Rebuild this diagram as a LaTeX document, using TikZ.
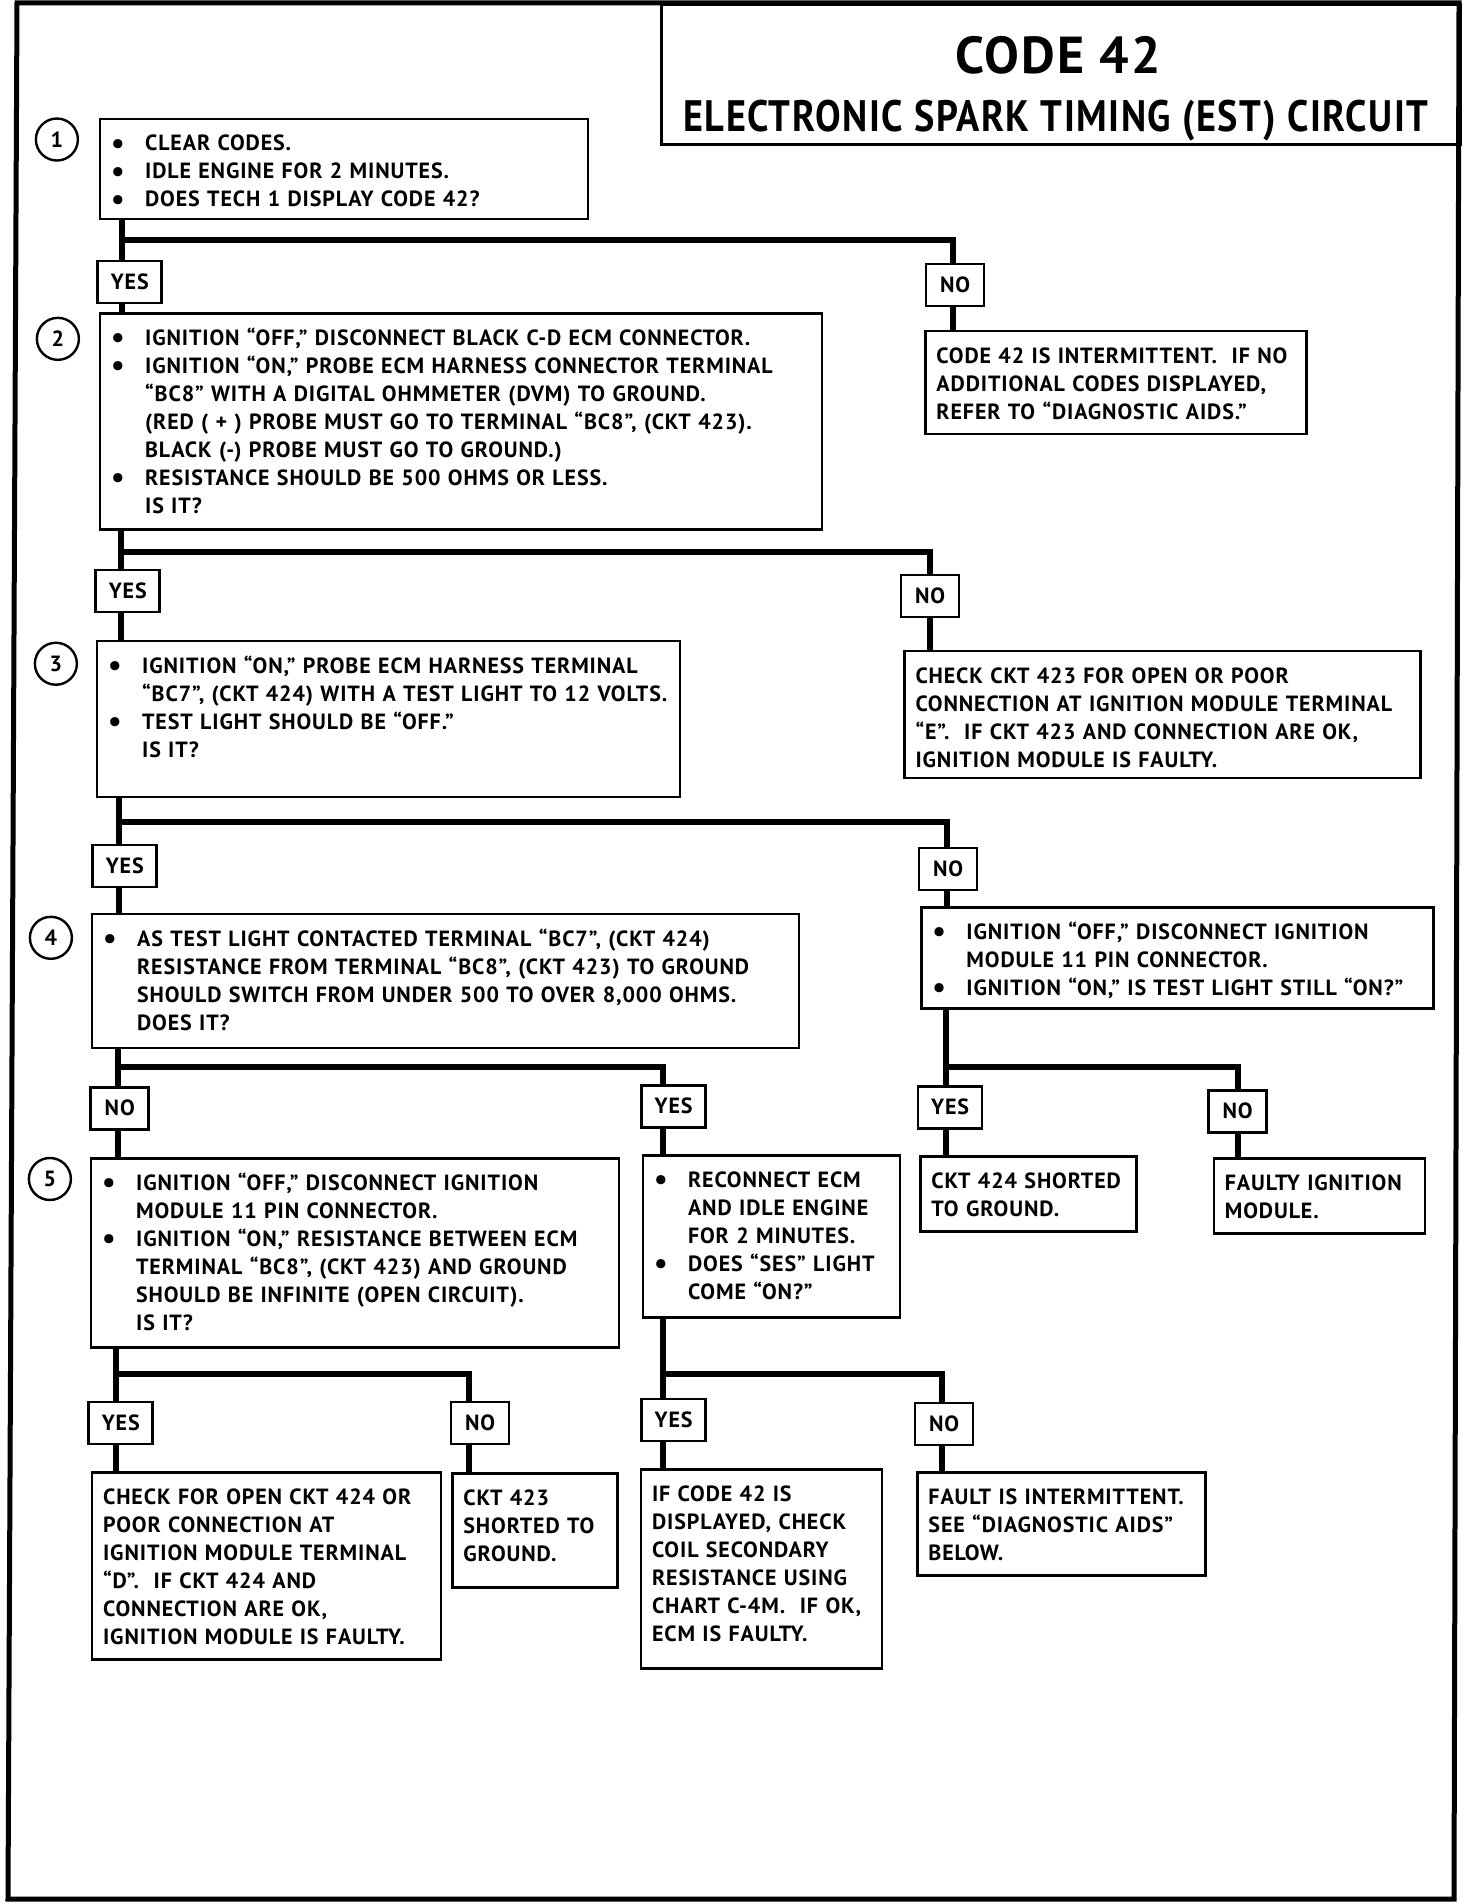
\documentclass[tikz,border=0pt]{standalone}
\usepackage{fontspec}
\setmainfont{PT Sans}[LetterSpace=4]
\usepackage{graphicx}
\usetikzlibrary{positioning}

\newcommand{\bodyfont}{\fontsize{11}{14}\selectfont\bfseries}
\newcommand{\bul}{\makebox[17pt][l]{\raisebox{-1.2pt}{\fontsize{15}{14}\selectfont\textbullet}}}
\newcommand{\ind}{\hspace*{17pt}}

\begin{document}
\begin{tikzpicture}[x=0.5pt,y=-0.5pt]

\tikzset{stepbox/.style={draw, line width=1.3pt, anchor=north west, inner xsep=5.5pt, inner ysep=0pt, align=left, text height=16pt, font=\bodyfont},
  ansbox/.style={draw, line width=1.3pt, inner sep=0pt, minimum height=21pt, font=\bodyfont},
  yesbox/.style={ansbox, minimum width=32pt},
  nobox/.style={ansbox, minimum width=29pt},
  stepnum/.style={circle, draw, line width=1.2pt, minimum size=21pt, inner sep=0pt, font=\bodyfont},
  conn/.style={line width=3pt}}

\useasboundingbox (0,0) rectangle (1472,1904);
\draw[line width=2.5pt] (17,3) -- (1459,3) -- (1454,1899) -- (8,1899) -- cycle;

\node[draw, line width=1.6pt, anchor=north west, minimum width=399.5pt, minimum height=70pt, inner sep=0pt] (title) at (660,3) {};
\node[font=\fontsize{26}{26}\selectfont\bfseries] (t1) at (1058,55) {CODE 42};
\node[font=\fontsize{22}{22}\selectfont\bfseries] (t2) at (1056,121) {\scalebox{0.87}[1]{ELECTRONIC SPARK TIMING (EST) CIRCUIT}};

\begin{scope}[xscale=0.998, yscale=0.9966]
\node[stepnum] (c1) at (57,140) {1};
\node[stepnum] (c2) at (58,340) {2};
\node[stepnum] (c3) at (56,666) {3};
\node[stepnum] (c4) at (51,941) {4};
\node[stepnum] (c5) at (50,1183) {5};

\node[stepbox, text width=233pt, text depth=34pt] (b1) at (99,118)
  {\bul CLEAR CODES.\\ \bul IDLE ENGINE FOR 2 MINUTES.\\ \bul DOES TECH 1 DISPLAY CODE 42?};
\node[stepbox, text width=350pt, text depth=92pt] (b2) at (99,313)
  {\bul IGNITION “OFF,” DISCONNECT BLACK C-D ECM CONNECTOR.\\
   \bul IGNITION “ON,” PROBE ECM HARNESS CONNECTOR TERMINAL\\
   \ind “BC8” WITH A DIGITAL OHMMETER (DVM) TO GROUND.\\
   \ind (RED ( + ) PROBE MUST GO TO TERMINAL “BC8”, (CKT 423).\\
   \ind BLACK (-) PROBE MUST GO TO GROUND.)\\
   \bul RESISTANCE SHOULD BE 500 OHMS OR LESS.\\
   \ind IS IT?};
\node[stepbox, text width=280.5pt, text depth=62pt] (b3) at (96,642)
  {\bul IGNITION “ON,” PROBE ECM HARNESS TERMINAL\\
   \ind “BC7”, (CKT 424) WITH A TEST LIGHT TO 12 VOLTS.\\
   \bul TEST LIGHT SHOULD BE “OFF.”\\
   \ind IS IT?};
\node[stepbox, text width=342.5pt, text depth=51pt] (b4) at (91,916)
  {\bul AS TEST LIGHT CONTACTED TERMINAL “BC7”, (CKT 424)\\
   \ind RESISTANCE FROM TERMINAL “BC8”, (CKT 423) TO GROUND\\
   \ind SHOULD SWITCH FROM UNDER 500 TO OVER 8,000 OHMS.\\
   \ind DOES IT?};
\node[stepbox, text width=253pt, text depth=78.5pt] (b5) at (90,1161)
  {\bul IGNITION “OFF,” DISCONNECT IGNITION\\
   \ind MODULE 11 PIN CONNECTOR.\\
   \bul IGNITION “ON,” RESISTANCE BETWEEN ECM\\
   \ind TERMINAL “BC8”, (CKT 423) AND GROUND\\
   \ind SHOULD BE INFINITE (OPEN CIRCUIT).\\
   \ind IS IT?};

\node[stepbox, text width=179.5pt, text depth=35.5pt] (n1) at (926,331)
  {CODE 42 IS INTERMITTENT.\ \ IF NO\\ ADDITIONAL CODES DISPLAYED,\\ REFER TO “DIAGNOSTIC AIDS.”};
\node[stepbox, text width=247pt, text depth=47.5pt] (n2) at (905,652)
  {CHECK CKT 423 FOR OPEN OR POOR\\ CONNECTION AT IGNITION MODULE TERMINAL\\
   “E”.\ \ IF CKT 423 AND CONNECTION ARE OK,\\ IGNITION MODULE IS FAULTY.};
\node[stepbox, text width=245pt, text depth=34.5pt] (n3) at (922,909)
  {\bul IGNITION “OFF,” DISCONNECT IGNITION\\
   \ind MODULE 11 PIN CONNECTOR.\\
   \bul IGNITION “ON,” IS TEST LIGHT STILL “ON?”};
\node[stepbox, text width=117.5pt, text depth=65pt] (r4) at (643,1158)
  {\bul RECONNECT ECM\\ \ind AND IDLE ENGINE\\ \ind FOR 2 MINUTES.\\ \bul DOES “SES” LIGHT\\ \ind COME “ON?”};
\node[stepbox, text width=97pt, text depth=21.5pt] (s424) at (921,1159)
  {CKT 424 SHORTED\\ TO GROUND.};
\node[stepbox, text width=94.5pt, text depth=21.5pt] (fim) at (1215,1161)
  {FAULTY IGNITION\\ MODULE.};
\node[stepbox, text width=163.5pt, text depth=77.5pt] (c424) at (91,1476)
  {CHECK FOR OPEN CKT 424 OR\\ POOR CONNECTION AT\\ IGNITION MODULE TERMINAL\\
   “D”.\ \ IF CKT 424 AND\\ CONNECTION ARE OK,\\ IGNITION MODULE IS FAULTY.};
\node[stepbox, text width=71.5pt, text depth=41pt] (s423) at (452,1477)
  {CKT 423\\ SHORTED TO\\ GROUND.};
\node[stepbox, text width=109.5pt, text depth=83.5pt] (coil) at (641,1473)
  {IF CODE 42 IS\\ DISPLAYED, CHECK\\ COIL SECONDARY\\ RESISTANCE USING\\ CHART C-4M.\ \ IF OK,\\ ECM IS FAULTY.};
\node[stepbox, text width=133pt, text depth=35.5pt] (fint) at (918,1476)
  {FAULT IS INTERMITTENT.\\ SEE “DIAGNOSTIC AIDS”\\ BELOW.};

\node[yesbox] (yes1) at (130,283) {YES};
\node[nobox] (no1) at (957,286) {NO};
\node[yesbox] (yes2) at (128,593) {YES};
\node[nobox] (no2) at (932,598) {NO};
\node[yesbox] (yes3) at (125,869) {YES};
\node[nobox] (no3) at (950,872) {NO};
\node[nobox] (no4) at (120,1112) {NO};
\node[yesbox] (yes4) at (675,1110) {YES};
\node[yesbox] (yes6) at (952,1111) {YES};
\node[nobox] (no6) at (1240,1115) {NO};
\node[yesbox] (yes5) at (121,1428) {YES};
\node[nobox] (no5) at (481,1428) {NO};
\node[yesbox] (yes7) at (675,1425) {YES};
\node[nobox] (no7) at (946,1429) {NO};

\coordinate (k1) at (122,241);  \coordinate (k1r) at (955,241);
\coordinate (k2) at (121,554);  \coordinate (k2r) at (932,554);
\coordinate (k3) at (119,825);  \coordinate (k3r) at (949,825);
\coordinate (k4) at (118,1071); \coordinate (k4r) at (664,1071);
\coordinate (k6) at (948,1071); \coordinate (k6r) at (1240,1071);
\coordinate (k5) at (116,1379); \coordinate (k5r) at (470,1379);
\coordinate (k7) at (664,1379); \coordinate (k7r) at (944,1379);

\draw[conn] (b1.south -| k1) -- (yes1.north -| k1);
\draw[conn] (k1) -- (k1r) -- (no1.north -| k1r);
\draw[conn] (yes1.south -| k1) -- (b2.north -| k1);
\draw[conn] (no1.south -| k1r) -- (n1.north -| k1r);

\draw[conn] (b2.south -| k2) -- (yes2.north -| k2);
\draw[conn] (k2) -- (k2r) -- (no2.north -| k2r);
\draw[conn] (yes2.south -| k2) -- (b3.north -| k2);
\draw[conn] (no2.south -| k2r) -- (n2.north -| k2r);

\draw[conn] (b3.south -| k3) -- (yes3.north -| k3);
\draw[conn] (k3) -- (k3r) -- (no3.north -| k3r);
\draw[conn] (yes3.south -| k3) -- (b4.north -| k3);
\draw[conn] (no3.south -| k3r) -- (n3.north -| k3r);

\draw[conn] (b4.south -| k4) -- (no4.north -| k4);
\draw[conn] (k4) -- (k4r) -- (yes4.north -| k4r);
\draw[conn] (no4.south -| k4) -- (b5.north -| k4);
\draw[conn] (yes4.south -| k4r) -- (r4.north -| k4r);

\draw[conn] (n3.south -| k6) -- (yes6.north -| k6);
\draw[conn] (k6) -- (k6r) -- (no6.north -| k6r);
\draw[conn] (yes6.south -| k6) -- (s424.north -| k6);
\draw[conn] (no6.south -| k6r) -- (fim.north -| k6r);

\draw[conn] (b5.south -| k5) -- (yes5.north -| k5);
\draw[conn] (k5) -- (k5r) -- (no5.north -| k5r);
\draw[conn] (yes5.south -| k5) -- (c424.north -| k5);
\draw[conn] (no5.south -| k5r) -- (s423.north -| k5r);

\draw[conn] (r4.south -| k7) -- (yes7.north -| k7);
\draw[conn] (k7) -- (k7r) -- (no7.north -| k7r);
\draw[conn] (yes7.south -| k7) -- (coil.north -| k7);
\draw[conn] (no7.south -| k7r) -- (fint.north -| k7r);
\end{scope}

\end{tikzpicture}
\end{document}
